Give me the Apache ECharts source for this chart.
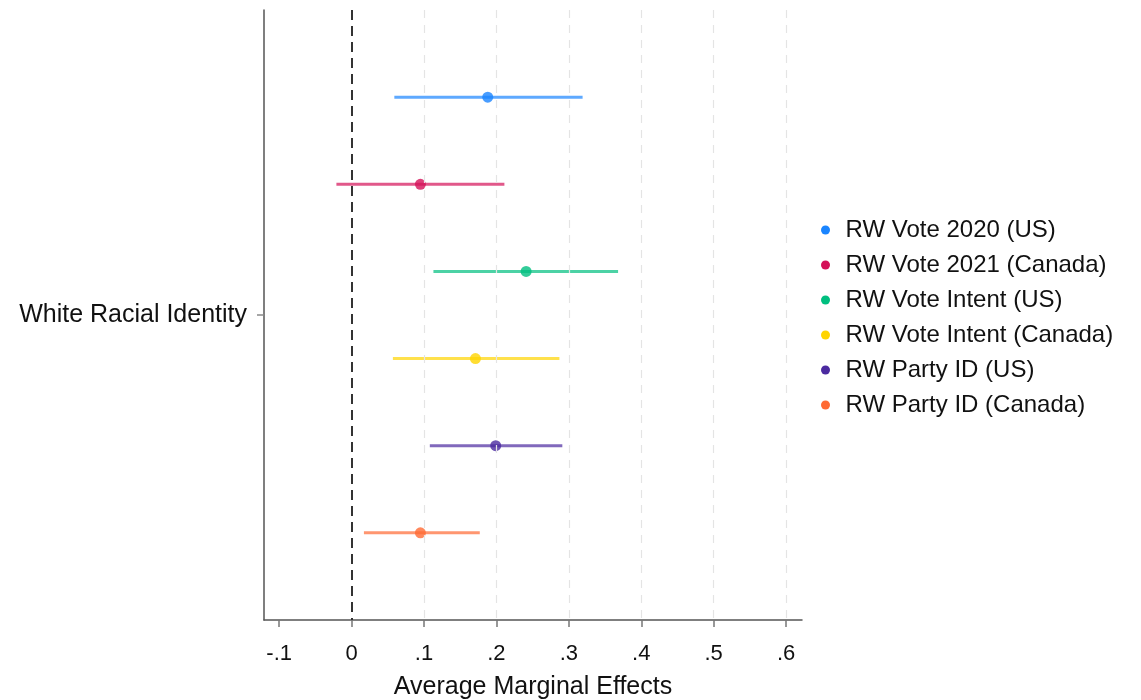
<!DOCTYPE html>
<html>
<head>
<meta charset="utf-8">
<script src="https://cdn.jsdelivr.net/npm/echarts@6/dist/echarts.min.js"></script>
<style>
  html, body { margin: 0; padding: 0; background: #fff; }
  #chart { width: 1141px; height: 700px; }
</style>
</head>
<body>
<div id="chart"></div>
<script>
  // 模型名称与估计值
  var seriesNames = ['RW Vote 2020 (US)', 'RW Vote 2021 (Canada)', 'RW Vote Intent (US)',
    'RW Vote Intent (Canada)', 'RW Party ID (US)', 'RW Party ID (Canada)']
  var estimates = [0.188, 0.095, 0.241, 0.171, 0.199, 0.095]
  var lowerCI = [0.059, -0.021, 0.113, 0.057, 0.108, 0.017]
  var upperCI = [0.319, 0.211, 0.368, 0.287, 0.291, 0.177]
  var rowPos = [1, 2, 3, 4, 5, 6]
  var categoryLabel = 'White Racial Identity'
  var xTicks = [-0.1, 0, 0.1, 0.2, 0.3, 0.4, 0.5, 0.6]
  var xTickLabels = ['-.1', '0', '.1', '.2', '.3', '.4', '.5', '.6']
  var gridTicks = [0.1, 0.2, 0.3, 0.4, 0.5, 0.6]

  var colors = ['#1a85ff', '#d41159', '#00bf7f', '#ffd400', '#4b2aa0', '#ff6a33']
  var font = 'Helvetica, "Liberation Sans", Arial, sans-serif'

  var chart = echarts.init(document.getElementById('chart'))

  var series = []
  seriesNames.forEach(function (name, i) {
    series.push({
      name: name,
      type: 'line',
      data: [[lowerCI[i], rowPos[i]], [upperCI[i], rowPos[i]]],
      showSymbol: false,
      symbol: 'none',
      silent: true,
      lineStyle: { color: colors[i], width: 3, opacity: 0.7 },
      itemStyle: { color: colors[i] },
      z: 3
    })
    series.push({
      name: name,
      type: 'scatter',
      data: [[estimates[i], rowPos[i]]],
      symbol: 'circle',
      symbolSize: 11,
      itemStyle: { color: colors[i] },
      z: 4
    })
  })
  // 参考线：网格与零线
  series.push({
    type: 'line',
    data: [],
    silent: true,
    markLine: {
      symbol: 'none',
      silent: true,
      label: { show: false },
      data: gridTicks.map(function (v) {
        return { xAxis: v, lineStyle: { color: '#e4e4e4', type: [8, 7], width: 1.2 } }
      }).concat([{ xAxis: 0, lineStyle: { color: '#333', type: [10, 6], width: 2 } }])
    },
    z: 2
  })

  var option = {
    animation: false,
    color: colors,
    grid: { left: 264, right: 339, top: 10, bottom: 80, outerBoundsMode: 'none' },
    legend: {
      orient: 'vertical',
      left: 816,
      top: 213,
      itemGap: 11,
      itemWidth: 20,
      itemHeight: 9,
      icon: 'circle',
      data: seriesNames.map(function (n) { return { name: n, icon: 'circle' } }),
      textStyle: { fontSize: 24, color: '#111', fontFamily: font, padding: [0, 0, 0, 5] }
    },
    xAxis: {
      type: 'value',
      position: 'bottom',
      min: -0.121,
      max: 0.622,
      name: 'Average Marginal Effects',
      nameLocation: 'middle',
      nameGap: 55,
      nameTextStyle: { fontSize: 25, color: '#111', fontFamily: font },
      axisLine: { show: true, onZero: false, lineStyle: { color: '#555', width: 1.5 } },
      axisTick: { show: true, length: 7, customValues: xTicks, lineStyle: { color: '#777', width: 1.5 } },
      axisLabel: {
        customValues: xTicks,
        margin: 23,
        fontSize: 22,
        color: '#111',
        fontFamily: font,
        formatter: function (v) {
          var idx = xTicks.findIndex(function (t) { return Math.abs(t - v) < 1e-9 })
          return idx >= 0 ? xTickLabels[idx] : ''
        }
      },
      splitLine: { show: false }
    },
    yAxis: {
      type: 'value',
      position: 'left',
      min: 0,
      max: 7,
      inverse: true,
      axisLine: { show: true, onZero: false, lineStyle: { color: '#555', width: 1.5 } },
      axisTick: { show: true, length: 7, customValues: [3.5], lineStyle: { color: '#888', width: 1.5 } },
      axisLabel: {
        customValues: [3.5],
        margin: 17,
        fontSize: 25,
        color: '#111',
        fontFamily: font,
        formatter: function () { return categoryLabel }
      },
      splitLine: { show: false }
    },
    series: series
  }
  chart.setOption(option)
</script>
</body>
</html>
